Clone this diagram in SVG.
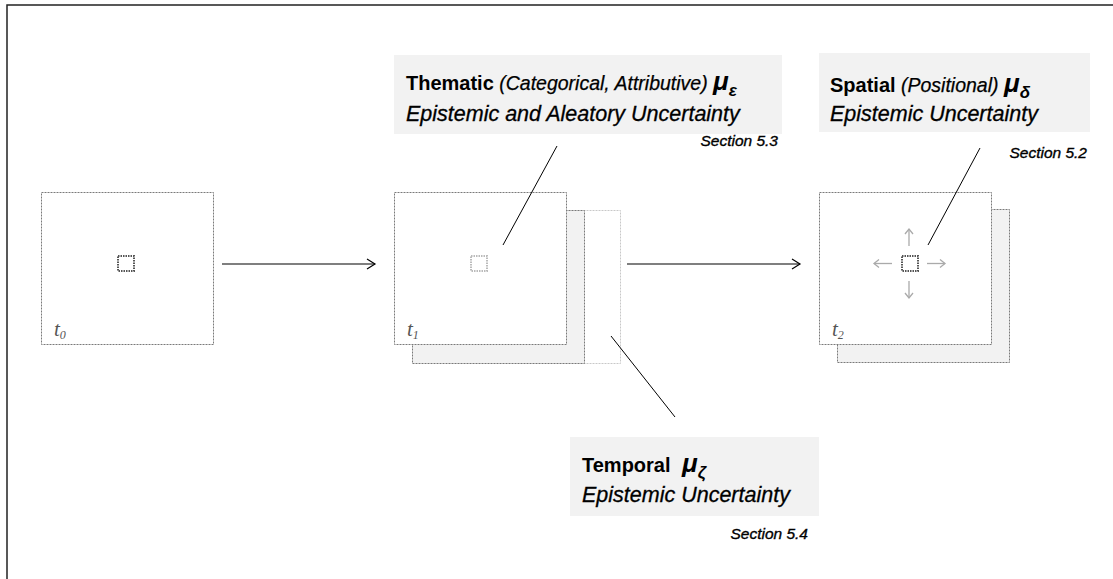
<svg xmlns="http://www.w3.org/2000/svg" width="1113" height="579" viewBox="0 0 1113 579">
<defs>
<style>
.frame{fill:#fff;stroke:#7a7a7a;stroke-width:1;stroke-dasharray:2,1}
.back{fill:#f2f2f2;stroke:#7a7a7a;stroke-width:1;stroke-dasharray:2,1}
.ghost{fill:#fff;stroke:#c8c8c8;stroke-width:1;stroke-dasharray:2,1}
.dot{fill:none;stroke:#555;stroke-width:2;stroke-dasharray:1.5,1}
.dotl{fill:none;stroke:#bbb;stroke-width:2;stroke-dasharray:1.5,1}
.box{fill:#f2f2f2}
.conn{stroke:#000;stroke-width:1.2;fill:none}
.lead{stroke:#000;stroke-width:1;fill:none}
.garr{stroke:#aaa;stroke-width:1.3;fill:none}
.b{font-family:"Liberation Sans",Arial,sans-serif;font-weight:bold;font-size:20px;fill:#000}
.i{font-family:"Liberation Sans",Arial,sans-serif;font-style:italic;font-size:19.5px;fill:#000;stroke:#000;stroke-width:0.25}
.i2{font-family:"Liberation Sans",Arial,sans-serif;font-style:italic;font-size:21.5px;fill:#000;stroke:#000;stroke-width:0.3}
.mu{font-family:"Liberation Sans",Arial,sans-serif;font-style:italic;font-weight:bold;font-size:26px;fill:#000}
.sub{font-family:"Liberation Sans",Arial,sans-serif;font-style:italic;font-weight:bold;font-size:17px;fill:#000}
.sec{font-family:"Liberation Sans",Arial,sans-serif;font-style:italic;font-size:15.5px;fill:#000;stroke:#000;stroke-width:0.35}
.t{font-family:"Liberation Serif","Times New Roman",serif;font-style:italic;font-size:21px;fill:#555}
.ts{font-size:12px}
</style>
<marker id="ah" markerWidth="12" markerHeight="12" refX="10" refY="6" orient="auto" markerUnits="userSpaceOnUse">
<path d="M2,1 L10,6 L2,11" fill="none" stroke="#000" stroke-width="1.2"/>
</marker>
<marker id="gh" markerWidth="10" markerHeight="10" refX="8" refY="5" orient="auto" markerUnits="userSpaceOnUse">
<path d="M3,1 L8,5 L3,9" fill="none" stroke="#aaa" stroke-width="1.3"/>
</marker>
</defs>
<rect width="1113" height="579" fill="#fff"/>
<rect x="7" y="5" width="1200" height="700" fill="none" stroke="#222" stroke-width="1.5"/>

<g id="frame-t0">
<rect class="frame" x="41.5" y="192.5" width="172" height="152"/>
<rect class="dot" x="118" y="256" width="16" height="15"/>
<text class="t" x="54" y="336">t<tspan class="ts" dy="3">0</tspan></text>
</g>

<g id="frame-t1">
<rect class="ghost" x="448.5" y="210.5" width="172" height="153"/>
<rect class="back" x="412.5" y="210.5" width="172" height="153"/>
<rect class="frame" x="394.5" y="192.5" width="172" height="152"/>
<rect class="dotl" x="471" y="256" width="16" height="15"/>
<text class="t" x="407" y="336">t<tspan class="ts" dy="3">1</tspan></text>
</g>

<g id="frame-t2">
<rect class="back" x="837.5" y="209.5" width="172" height="153"/>
<rect class="frame" x="819.5" y="192.5" width="172" height="152"/>
<rect class="dot" x="902" y="256" width="16" height="15"/>
<line class="garr" x1="909" y1="246" x2="909" y2="229" marker-end="url(#gh)"/>
<line class="garr" x1="909" y1="281" x2="909" y2="298" marker-end="url(#gh)"/>
<line class="garr" x1="892" y1="263.5" x2="874" y2="263.5" marker-end="url(#gh)"/>
<line class="garr" x1="927" y1="263.5" x2="945" y2="263.5" marker-end="url(#gh)"/>
<text class="t" x="832" y="336">t<tspan class="ts" dy="3">2</tspan></text>
</g>

<g id="label-thematic">
<rect class="box" x="394" y="55" width="388" height="79"/>
<text x="406" y="90"><tspan class="b">Thematic</tspan><tspan class="i"> (Categorical, Attributive) </tspan><tspan class="mu">μ</tspan><tspan class="sub" dy="6">ε</tspan></text>
<text class="i2" x="406" y="121">Epistemic and Aleatory Uncertainty</text>
<text class="sec" x="778" y="146" text-anchor="end">Section 5.3</text>
</g>

<g id="label-spatial">
<rect class="box" x="819" y="53" width="271" height="79"/>
<text x="830" y="92"><tspan class="b">Spatial</tspan><tspan class="i"> (Positional) </tspan><tspan class="mu">μ</tspan><tspan class="sub" dy="6">δ</tspan></text>
<text class="i2" x="830" y="121">Epistemic Uncertainty</text>
<text class="sec" x="1087" y="158" text-anchor="end">Section 5.2</text>
</g>

<g id="label-temporal">
<rect class="box" x="570" y="437" width="249" height="79"/>
<text class="b" x="582" y="472">Temporal</text>
<text x="682" y="472"><tspan class="mu">μ</tspan><tspan class="sub" dy="6">ζ</tspan></text>
<text class="i2" x="582" y="502">Epistemic Uncertainty</text>
<text class="sec" x="808" y="539" text-anchor="end">Section 5.4</text>
</g>

<g id="connectors">
<line class="conn" x1="222" y1="264" x2="375" y2="264" marker-end="url(#ah)"/>
<line class="conn" x1="627" y1="264" x2="800" y2="264" marker-end="url(#ah)"/>
<line class="lead" x1="503" y1="245" x2="557" y2="146"/>
<line class="lead" x1="928" y1="245" x2="980" y2="148"/>
<line class="lead" x1="611" y1="336" x2="675" y2="417"/>
</g>
</svg>
